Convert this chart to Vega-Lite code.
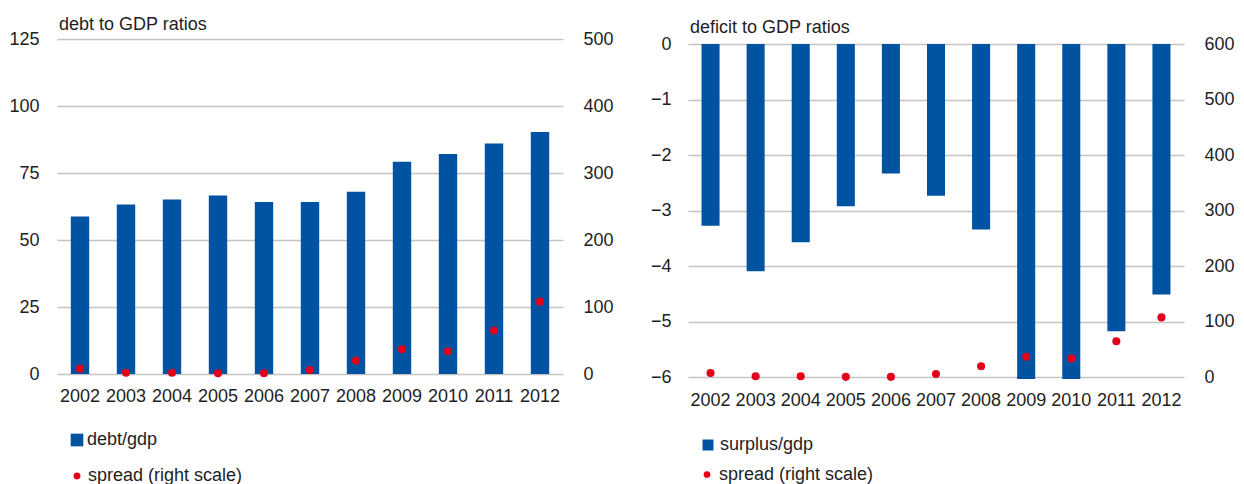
{
  "$schema": "https://vega.github.io/schema/vega-lite/v6.json",
  "padding": {"left": 8, "top": 16, "right": 5, "bottom": 0},
  "background": "white",
  "config": {
    "font": "Liberation Sans",
    "view": {"stroke": null},
    "axis": {"labelFont": "Liberation Sans", "labelFontSize": 18, "labelColor": "#1e1e1e", "domain": false, "ticks": false, "title": null, "gridColor": "#c4c4c4", "gridWidth": 1.4},
    "legend": {"labelFont": "Liberation Sans", "labelFontSize": 18, "labelColor": "#1e1e1e", "title": null},
    "title": {"font": "Liberation Sans", "fontSize": 18, "fontWeight": "normal", "color": "#1e1e1e", "anchor": "start", "frame": "group"}
  },
  "datasets": {
    "d": [
      {"year": "2002", "debt": 58.8, "deficit": -3.27, "spread": 8},
      {"year": "2003", "debt": 63.2, "deficit": -4.09, "spread": 2},
      {"year": "2004", "debt": 65.1, "deficit": -3.57, "spread": 2},
      {"year": "2005", "debt": 66.6, "deficit": -2.92, "spread": 1},
      {"year": "2006", "debt": 64.2, "deficit": -2.33, "spread": 1},
      {"year": "2007", "debt": 64.2, "deficit": -2.73, "spread": 6},
      {"year": "2008", "debt": 68.0, "deficit": -3.34, "spread": 20},
      {"year": "2009", "debt": 79.2, "deficit": -7.5, "spread": 37},
      {"year": "2010", "debt": 82.1, "deficit": -7.1, "spread": 34},
      {"year": "2011", "debt": 86.0, "deficit": -5.17, "spread": 65},
      {"year": "2012", "debt": 90.3, "deficit": -4.51, "spread": 108}
    ]
  },
  "spacing": 36,
  "resolve": {"scale": {"color": "independent", "fill": "independent"}, "legend": {"color": "independent", "fill": "independent"}},
  "hconcat": [
    {
      "width": 506,
      "height": 335,
      "title": {"text": "debt to GDP ratios", "offset": -4, "dx": 2},
      "data": {"name": "d"},
      "layer": [
        {
          "mark": {"type": "bar", "color": "#0053a1"},
          "encoding": {
            "x": {"field": "year", "type": "ordinal", "scale": {"paddingInner": 0.6, "paddingOuter": 0.3}, "axis": {"labelAngle": 0, "labelPadding": 13, "grid": false}},
            "y": {"field": "debt", "type": "quantitative", "scale": {"domain": [0, 125]}, "axis": {"orient": "left", "values": [0, 25, 50, 75, 100, 125], "labelPadding": 18}},
            "color": {"datum": "debt/gdp", "scale": {"range": ["#0053a1"]}, "legend": {"orient": "none", "legendX": 11, "legendY": 392, "symbolType": "square", "symbolSize": 160, "labelOffset": 1}}
          }
        },
        {
          "mark": {"type": "point", "filled": true, "size": 65, "opacity": 1},
          "encoding": {
            "x": {"field": "year", "type": "ordinal"},
            "y": {"field": "spread", "type": "quantitative", "scale": {"domain": [0, 500]}, "axis": {"orient": "right", "values": [0, 100, 200, 300, 400, 500], "grid": false, "labelPadding": 20}},
            "fill": {"datum": "spread (right scale)", "scale": {"range": ["#e2001a"]}, "legend": {"orient": "none", "legendX": 11, "legendY": 428, "symbolType": "circle", "symbolSize": 48, "labelOffset": 2}}
          }
        }
      ],
      "resolve": {"scale": {"y": "independent"}}
    },
    {
      "width": 496,
      "height": 340,
      "title": {"text": "deficit to GDP ratios", "offset": -2, "dx": 2},
      "data": {"name": "d"},
      "layer": [
        {
          "mark": {"type": "bar", "color": "#0053a1", "clip": true},
          "encoding": {
            "x": {"field": "year", "type": "ordinal", "scale": {"paddingInner": 0.6, "paddingOuter": 0.3}, "axis": {"labelAngle": 0, "labelPadding": 12.5, "grid": false}},
            "y": {"field": "deficit", "type": "quantitative", "scale": {"domain": [-6, 0], "range": [338.4, 5]}, "axis": {"orient": "left", "values": [-6, -5, -4, -3, -2, -1, 0], "labelPadding": 17}},
            "color": {"datum": "surplus/gdp", "scale": {"range": ["#0053a1"]}, "legend": {"orient": "none", "legendX": 11, "legendY": 397, "symbolType": "square", "symbolSize": 121, "labelOffset": 3}}
          }
        },
        {
          "mark": {"type": "point", "filled": true, "size": 65, "opacity": 1},
          "encoding": {
            "x": {"field": "year", "type": "ordinal"},
            "y": {"field": "spread", "type": "quantitative", "scale": {"domain": [0, 600], "range": [338.4, 5]}, "axis": {"orient": "right", "values": [0, 100, 200, 300, 400, 500, 600], "grid": false, "labelPadding": 20}},
            "fill": {"datum": "spread (right scale)", "scale": {"range": ["#e2001a"]}, "legend": {"orient": "none", "legendX": 10, "legendY": 426.5, "symbolType": "circle", "symbolSize": 45, "labelOffset": 3}}
          }
        }
      ],
      "resolve": {"scale": {"y": "independent"}}
    }
  ]
}
